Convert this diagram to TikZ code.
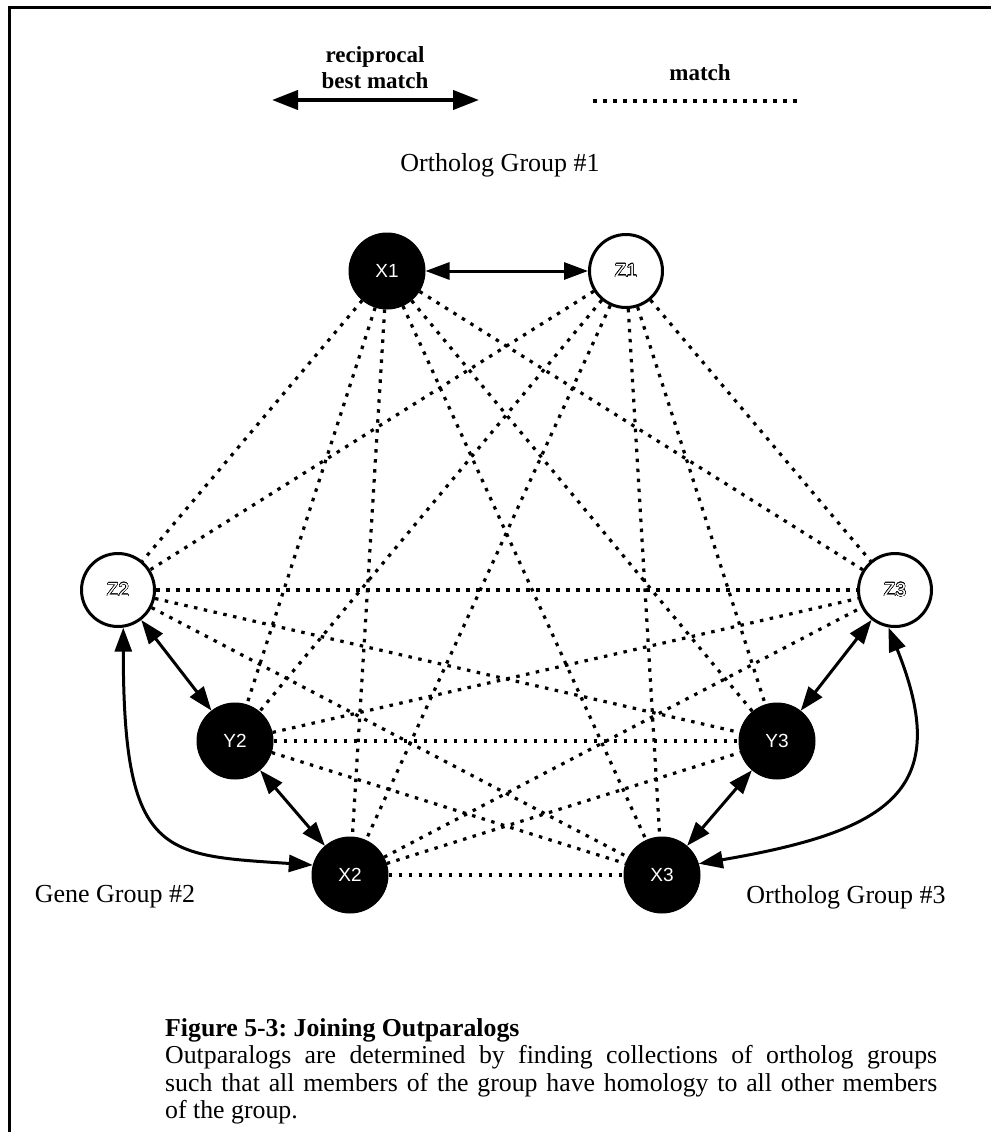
\documentclass[tikz,border=0pt]{standalone}
\usepackage{fontspec}
\setmainfont{Liberation Serif}
\newfontfamily\nodefont{Liberation Sans}
\usepackage{contour}
\contourlength{0.45pt}
\contournumber{24}
\usetikzlibrary{arrows.meta}

\begin{document}
\begin{tikzpicture}[x=1pt,y=-1pt,
  genefont/.style={font=\nodefont\fontsize{19}{19}\selectfont},
  blk/.style={circle,fill=black,draw=black,line width=1pt,minimum size=76pt,
    inner sep=0pt,text=white,genefont},
  wht/.style={circle,fill=white,draw=black,line width=3pt,minimum size=73pt,
    inner sep=0pt,text=white,genefont},
  bestmatch/.style={line width=3pt,
    {Triangle[length=24pt,width=17pt]}-{Triangle[length=24pt,width=17pt]}},
  matchline/.style={line width=3.2pt,dash pattern=on 3.5pt off 6.5pt},
  lbl/.style={font=\fontsize{26}{26}\selectfont,inner sep=0pt},
  legend/.style={font=\bfseries\fontsize{23}{26}\selectfont,inner sep=0pt,align=center},
]
\useasboundingbox (0,0) rectangle (991,1132);

% frame
\draw[line width=3pt,line join=miter] (9,1132) -- (9,8) -- (991,8);

% legend
\node[legend] (rbm) at (375,68) {reciprocal\\best match};
\coordinate (la) at (272,100);
\coordinate (lb) at (479,100);
\draw[line width=4pt,{Triangle[length=26pt,width=19pt]}-{Triangle[length=26pt,width=19pt]}] (la) -- (lb);
\node[legend] (mt) at (700,73) {match};
\coordinate (ma) at (593,101);
\coordinate (mb) at (802,101);
\draw[matchline] (ma) -- (mb);

% group labels
\node[lbl] (g1) at (500,165) {Ortholog Group \#1};
\node[lbl] (g2) at (115,897) {Gene Group \#2};
\node[lbl] (g3) at (846,897) {Ortholog Group \#3};

% genes
\node[blk] (X1) at (387,271) {X1};
\node[wht] (Z1) at (626,271) {\contour{black}{Z1}};
\node[wht] (Z2) at (118,590) {\contour{black}{Z2}};
\node[wht] (Z3) at (895,590) {\contour{black}{Z3}};
\node[blk] (Y2) at (235,741) {Y2};
\node[blk] (Y3) at (777,741) {Y3};
\node[blk] (X2) at (350,875) {X2};
\node[blk] (X3) at (662,875) {X3};

% matches between members of different groups
\foreach \a in {X1,Z1}
  \foreach \b in {Z2,Y2,X2,Z3,Y3,X3}
    \draw[matchline] (\a) -- (\b);
\foreach \a in {Z2,Y2,X2}
  \foreach \b in {Z3,Y3,X3}
    \draw[matchline] (\a) -- (\b);

% reciprocal best matches
\draw[bestmatch] (X1) -- (Z1);
\draw[bestmatch] (Z2) -- (Y2);
\draw[bestmatch] (Y2) -- (X2);
\draw[bestmatch] (Z3) -- (Y3);
\draw[bestmatch] (Y3) -- (X3);
\draw[bestmatch] (Z2.-82) .. controls +(0,230) and +(-150,-10) .. (X2.165);
\draw[bestmatch] (Z3.-100) .. controls +(65,162) and +(193,-33) .. (X3.17);

% caption
\node[anchor=north west,inner sep=0pt,text width=772pt,align=justify,
  font=\fontsize{25.8}{27.5}\selectfont] (cap) at (165,1018)
  {\frenchspacing\hyphenpenalty=10000\exhyphenpenalty=10000
   \textbf{Figure 5-3: Joining Outparalogs}\\
   Outparalogs are determined by finding collections of ortholog groups\linebreak
   such that all members of the group have homology to all other members\linebreak
   of the group.};
\end{tikzpicture}
\end{document}
